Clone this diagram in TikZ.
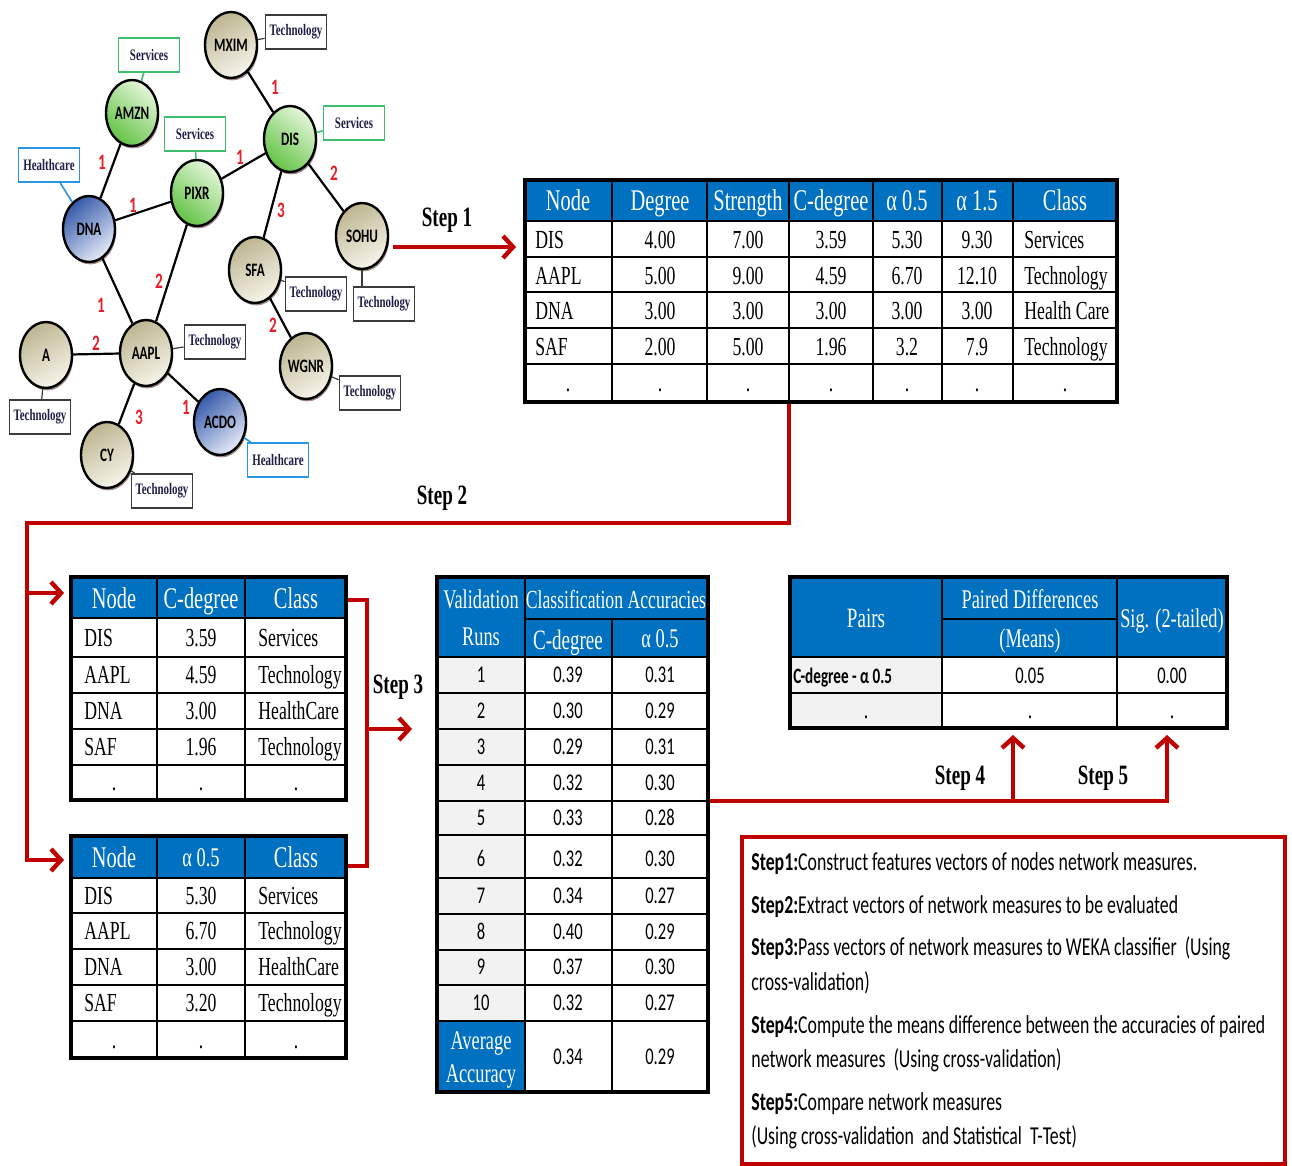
\documentclass[tikz,border=0pt]{standalone}
\usepackage{fontspec}
\setmainfont{Liberation Serif}[FakeStretch=0.68]
\newfontfamily\calfont{Carlito}[FakeStretch=0.69]
\usetikzlibrary{arrows.meta,shapes.geometric,shadows}
\definecolor{hblue}{RGB}{0,112,192}
\definecolor{sred}{RGB}{192,0,0}
\definecolor{wred}{RGB}{230,30,40}
\definecolor{sgreen}{RGB}{60,190,110}
\definecolor{hcblue}{RGB}{40,150,225}
\definecolor{tgray}{RGB}{60,60,60}
\definecolor{navy}{RGB}{30,30,70}
\definecolor{tan1}{RGB}{190,182,145}
\definecolor{tan2}{RGB}{246,244,234}
\definecolor{grn1}{RGB}{100,195,70}
\definecolor{grn2}{RGB}{228,246,218}
\definecolor{blu1}{RGB}{55,90,170}
\definecolor{blu2}{RGB}{228,234,248}
\definecolor{lgray}{RGB}{242,242,242}
\definecolor{shadowc}{RGB}{100,60,60}
\begin{document}
\begin{tikzpicture}[x=0.5pt,y=-0.5pt,
  hdr/.style={text=white,inner sep=0,text height=10pt,text depth=0pt,font=\fontsize{15}{17}\selectfont},
  hdrs/.style={text=white,inner sep=0,text height=9pt,text depth=0pt,font=\fontsize{13.5}{15}\selectfont},
  dat/.style={inner sep=0,text height=8.6pt,text depth=0pt,font=\fontsize{13}{15}\selectfont},
  datl/.style={dat,anchor=west},
  dotn/.style={inner sep=0,anchor=base,font=\fontsize{13}{15}\selectfont},
  sdat/.style={inner sep=0,text height=7.6pt,text depth=0pt,font=\calfont\fontsize{12}{14}\selectfont},
  inner/.style={line width=1.1pt},
  outer/.style={line width=1.8pt},
  nn/.style={ellipse,draw=black,line width=1.2pt,minimum width=26pt,minimum height=33pt,inner sep=0,
    font=\calfont\bfseries\fontsize{9.5}{10}\selectfont,
    drop shadow={shadow xshift=0.6pt,shadow yshift=-1.2pt,fill=shadowc,opacity=0.6}},
  tanf/.style={top color=tan1,bottom color=tan2,shading angle=30},
  grnf/.style={top color=grn2,bottom color=grn1,shading angle=-40},
  bluf/.style={top color=blu1,bottom color=blu2,shading angle=40},
  lab/.style={draw,fill=white,line width=0.9pt,minimum width=30.5pt,minimum height=17pt,inner sep=0,
    text=navy,font=\bfseries\fontsize{8}{9}\selectfont},
  techb/.style={lab,draw=tgray},
  servb/.style={lab,draw=sgreen},
  hcb/.style={lab,draw=hcblue},
  techc/.style={draw=tgray,line width=0.6pt},
  servc/.style={draw=sgreen,line width=0.8pt},
  hcc/.style={draw=hcblue,line width=0.8pt},
  edge/.style={line width=1.1pt},
  wt/.style={text=wred,inner sep=0,font=\calfont\bfseries\fontsize{11}{12}\selectfont},
  sarrow/.style={draw=sred,line width=2.2pt,-{Straight Barb[length=5pt,width=11pt]}},
  sline/.style={draw=sred,line width=2pt},
  slabel/.style={inner sep=0,font=\bfseries\fontsize{14}{16}\selectfont},
  btxt/.style={anchor=west,inner sep=0,text height=8.5pt,text depth=0pt,font=\calfont\fontsize{12.9}{15}\selectfont}
]
\useasboundingbox[fill=white] (0,0) rectangle (1292,1166);

% ---------------- network ----------------
\node[nn,tanf] (mxim) at (231,45) {MXIM};
\node[nn,grnf] (amzn) at (132,113) {AMZN};
\node[nn,grnf] (dis) at (290,139) {DIS};
\node[nn,grnf] (pixr) at (197,193) {PIXR};
\node[nn,bluf] (dna) at (89,229) {DNA};
\node[nn,tanf] (sohu) at (362,236) {SOHU};
\node[nn,tanf] (sfa) at (255,270) {SFA};
\node[nn,tanf] (aapl) at (146,353) {AAPL};
\node[nn,tanf] (a) at (46,355) {A};
\node[nn,tanf] (wgnr) at (306,366) {WGNR};
\node[nn,bluf] (acdo) at (220,422) {ACDO};
\node[nn,tanf] (cy) at (107,455) {CY};

\draw[edge] (mxim) -- (dis);
\draw[edge] (amzn) -- (dna);
\draw[edge] (dna) -- (pixr);
\draw[edge] (pixr) -- (dis);
\draw[edge] (dis) -- (sohu);
\draw[edge] (dis) -- (sfa);
\draw[edge] (pixr) -- (aapl);
\draw[edge] (dna) -- (aapl);
\draw[edge] (a) -- (aapl);
\draw[edge] (aapl) -- (acdo);
\draw[edge] (aapl) -- (cy);
\draw[edge] (sfa) -- (wgnr);

\node[wt] (w1) at (275,87) {1};
\node[wt] (w2) at (102,162) {1};
\node[wt] (w3) at (240,157) {1};
\node[wt] (w4) at (133,205) {1};
\node[wt] (w5) at (334,173) {2};
\node[wt] (w6) at (281,210) {3};
\node[wt] (w7) at (159,281) {2};
\node[wt] (w8) at (101,305) {1};
\node[wt] (w9) at (96,343) {2};
\node[wt] (w10) at (186,407) {1};
\node[wt] (w11) at (139,417) {3};
\node[wt] (w12) at (273,325) {2};

\node[techb] (mximL) at (296,32) {Technology};
\node[servb] (amznL) at (149,55) {Services};
\node[servb] (pixrL) at (195,134) {Services};
\node[servb] (disL) at (354,123) {Services};
\node[hcb] (dnaL) at (49,165) {Healthcare};
\node[techb] (sfaL) at (316,294) {Technology};
\node[techb] (sohuL) at (384,304) {Technology};
\node[techb] (aaplL) at (215,342) {Technology};
\node[techb] (wgnrL) at (370,393) {Technology};
\node[techb] (aL) at (40,417) {Technology};
\node[hcb] (acdoL) at (278,460) {Healthcare};
\node[techb] (cyL) at (162,491) {Technology};

\draw[techc] (mxim) -- (mximL);
\draw[servc] (amzn) -- (amznL);
\draw[servc] (pixr) -- (pixrL);
\draw[servc] (dis) -- (disL);
\draw[hcc] (dna) -- (dnaL);
\draw[techc] (sfa) -- (sfaL);
\draw[techc] (sohu.south) -- (sohu.south |- sohuL.north);
\draw[techc] (aapl) -- (aaplL);
\draw[techc] (wgnr) -- (wgnrL);
\draw[techc] (a) -- (aL);
\draw[hcc] (acdo) -- (acdoL);
\draw[techc] (cy) -- (cyL);

% ---------------- Table 1 ----------------
\fill[hblue] (525,180) rectangle (1117,221);
\foreach \x in {612,707,789,873,942,1013} \draw[inner] (\x,180) -- (\x,402);
\foreach \y in {221,257,292,328,364} \draw[inner] (525,\y) -- (1117,\y);
\draw[outer] (525,180) rectangle (1117,402);
\foreach \t/\x [count=\i] in {Node/568,Degree/660,Strength/748,C-degree/831,α 0.5/907,α 1.5/977,Class/1065}
  \node[hdr] (t1h\i) at (\x,201) {\t};
\foreach \y/\a/\b/\c/\d/\e/\f/\g [count=\i] in {240/DIS/4.00/7.00/3.59/5.30/9.30/Services,276/AAPL/5.00/9.00/4.59/6.70/12.10/Technology,311/DNA/3.00/3.00/3.00/3.00/3.00/Health Care,347/SAF/2.00/5.00/1.96/3.2/7.9/Technology}{
  \node[datl] (t1-\i-a) at (535,\y) {\a};
  \node[dat] (t1-\i-b) at (660,\y) {\b};
  \node[dat] (t1-\i-c) at (748,\y) {\c};
  \node[dat] (t1-\i-d) at (831,\y) {\d};
  \node[dat] (t1-\i-e) at (907,\y) {\e};
  \node[dat] (t1-\i-f) at (977,\y) {\f};
  \node[datl] (t1-\i-g) at (1024,\y) {\g};
}
\foreach \x [count=\i] in {568,660,748,831,907,977,1065}
  \node[dotn] (t1d\i) at (\x,392) {.};

% ---------------- Table 2 ----------------
\fill[hblue] (71,577) rectangle (346,618);
\foreach \x in {157,245} \draw[inner] (\x,577) -- (\x,800);
\foreach \y in {618,657,693,729,765} \draw[inner] (71,\y) -- (346,\y);
\draw[outer] (71,577) rectangle (346,800);
\node[hdr] (t2h1) at (114,598) {Node};
\node[hdr] (t2h2) at (201,598) {C-degree};
\node[hdr] (t2h3) at (296,598) {Class};
\foreach \y/\a/\b/\c [count=\i] in {638/DIS/3.59/Services,675/AAPL/4.59/Technology,711/DNA/3.00/HealthCare,747/SAF/1.96/Technology}{
  \node[datl] (t2-\i-a) at (84,\y) {\a};
  \node[dat] (t2-\i-b) at (201,\y) {\b};
  \node[datl] (t2-\i-c) at (258,\y) {\c};
}
\foreach \x [count=\i] in {114,201,296}
  \node[dotn] (t2d\i) at (\x,790) {.};

% ---------------- Table 3 ----------------
\fill[hblue] (71,836) rectangle (346,878);
\foreach \x in {157,245} \draw[inner] (\x,836) -- (\x,1058);
\foreach \y in {878,913,949,985,1021} \draw[inner] (71,\y) -- (346,\y);
\draw[outer] (71,836) rectangle (346,1058);
\node[hdr] (t3h1) at (114,857) {Node};
\node[hdrs] (t3h2) at (201,857) {α 0.5};
\node[hdr] (t3h3) at (296,857) {Class};
\foreach \y/\a/\b/\c [count=\i] in {896/DIS/5.30/Services,931/AAPL/6.70/Technology,967/DNA/3.00/HealthCare,1003/SAF/3.20/Technology}{
  \node[datl] (t3-\i-a) at (84,\y) {\a};
  \node[dat] (t3-\i-b) at (201,\y) {\b};
  \node[datl] (t3-\i-c) at (258,\y) {\c};
}
\foreach \x [count=\i] in {114,201,296}
  \node[dotn] (t3d\i) at (\x,1048) {.};

% ---------------- Table 4 ----------------
\fill[hblue] (437,577) rectangle (708,657);
\fill[lgray] (437,657) rectangle (525,1021);
\fill[hblue] (437,1021) rectangle (525,1092);
\draw[inner] (525,577) -- (525,1092);
\draw[inner] (612,619) -- (612,1092);
\draw[inner] (525,619) -- (708,619);
\foreach \y in {657,693,729,765,801,835,878,914,950,985,1021} \draw[inner] (437,\y) -- (708,\y);
\draw[outer] (437,577) rectangle (708,1092);
\node[hdrs] (t4h1) at (481,600) {Validation};
\node[hdrs] (t4h2) at (481,636) {Runs};
\node[hdrs,font=\fontsize{13}{15}\selectfont] (t4h3) at (616,599) {Classification Accuracies};
\node[hdrs,font=\fontsize{14}{16}\selectfont] (t4h4) at (568,640) {C-degree};
\node[hdrs] (t4h5) at (660,638) {α 0.5};
\foreach \y/\r/\c/\d [count=\i] in {675/1/0.39/0.31,711/2/0.30/0.29,747/3/0.29/0.31,783/4/0.32/0.30,818/5/0.33/0.28,859/6/0.32/0.30,896/7/0.34/0.27,932/8/0.40/0.29,967/9/0.37/0.30,1003/10/0.32/0.27}{
  \node[sdat] (t4-\i-a) at (481,\y) {\r};
  \node[sdat] (t4-\i-b) at (568,\y) {\c};
  \node[sdat] (t4-\i-c) at (660,\y) {\d};
}
\node[hdrs] (t4av1) at (481,1040) {Average};
\node[hdrs] (t4av2) at (481,1073) {Accuracy};
\node[sdat] (t4avb) at (568,1057) {0.34};
\node[sdat] (t4avc) at (660,1057) {0.29};

% ---------------- Table 5 ----------------
\fill[hblue] (790,577) rectangle (1227,657);
\fill[lgray] (790,657) rectangle (942,728);
\draw[inner] (942,577) -- (942,728);
\draw[inner] (1117,577) -- (1117,728);
\draw[inner] (942,619) -- (1117,619);
\draw[inner] (790,657) -- (1227,657);
\draw[inner] (790,693) -- (1227,693);
\draw[outer] (790,577) rectangle (1227,728);
\node[hdrs,font=\fontsize{14}{16}\selectfont] (t5h1) at (866,618) {Pairs};
\node[hdrs] (t5h2) at (1030,599) {Paired Differences};
\node[hdrs] (t5h3) at (1030,638) {(Means)};
\node[hdrs] (t5h4) at (1172,618) {Sig. (2-tailed)};
\node[sdat,anchor=west,font=\calfont\bfseries\fontsize{11}{13}\selectfont] (t5a) at (793,676) {C-degree - α 0.5};
\node[sdat] (t5b) at (1030,676) {0.05};
\node[sdat] (t5c) at (1172,676) {0.00};
\foreach \x [count=\i] in {866,1030,1172}
  \node[dotn] (t5d\i) at (\x,718) {.};

% ---------------- Step connectors ----------------
\coordinate (s1a) at (393,247);
\coordinate (s1b) at (516,247);
\draw[sarrow] (s1a) -- (s1b);
\node[slabel] (st1) at (447,220) {Step 1};

\coordinate (s2a) at (789,404);
\coordinate (s2b) at (789,523);
\coordinate (s2c) at (27,523);
\coordinate (s2d) at (27,860);
\coordinate (s2e) at (64,860);
\coordinate (s2f) at (27,593);
\coordinate (s2g) at (64,593);
\draw[sarrow] (s2a) -- (s2b) -- (s2c) -- (s2d) -- (s2e);
\draw[sarrow] (s2f) -- (s2g);
\node[slabel] (st2) at (442,498) {Step 2};

\coordinate (s3a) at (348,600);
\coordinate (s3b) at (367,600);
\coordinate (s3c) at (367,866);
\coordinate (s3d) at (348,866);
\coordinate (s3e) at (367,729);
\coordinate (s3f) at (412,729);
\draw[sline] (s3a) -- (s3b) -- (s3c) -- (s3d);
\draw[sarrow] (s3e) -- (s3f);
\node[slabel] (st3) at (398,687) {Step 3};

\coordinate (s4a) at (710,801);
\coordinate (s4b) at (1167,801);
\coordinate (s4c) at (1167,735);
\coordinate (s4d) at (1013,801);
\coordinate (s4e) at (1013,735);
\draw[sarrow] (s4a) -- (s4b) -- (s4c);
\draw[sarrow] (s4d) -- (s4e);
\node[slabel] (st4) at (960,778) {Step 4};
\node[slabel] (st5) at (1103,778) {Step 5};

% ---------------- Text box ----------------
\draw[sred,line width=1.6pt] (742,837) rectangle (1285,1164);
\node[btxt] (b1) at (751,862) {\textbf{Step1:}Construct features vectors of nodes network measures.};
\node[btxt] (b2) at (751,905) {\textbf{Step2:}Extract vectors of network measures to be evaluated};
\node[btxt] (b3) at (751,947) {\textbf{Step3:}Pass vectors of network measures to WEKA classifier~ (Using};
\node[btxt] (b4) at (751,982) {cross-validation)};
\node[btxt] (b5) at (751,1025) {\textbf{Step4:}Compute the means difference between the accuracies of paired};
\node[btxt] (b6) at (751,1059) {network measures~ (Using cross-validation)};
\node[btxt] (b7) at (751,1102) {\textbf{Step5:}Compare network measures};
\node[btxt] (b8) at (751,1136) {(Using cross-validation~ and Statistical~ T-Test)};
\end{tikzpicture}
\end{document}
